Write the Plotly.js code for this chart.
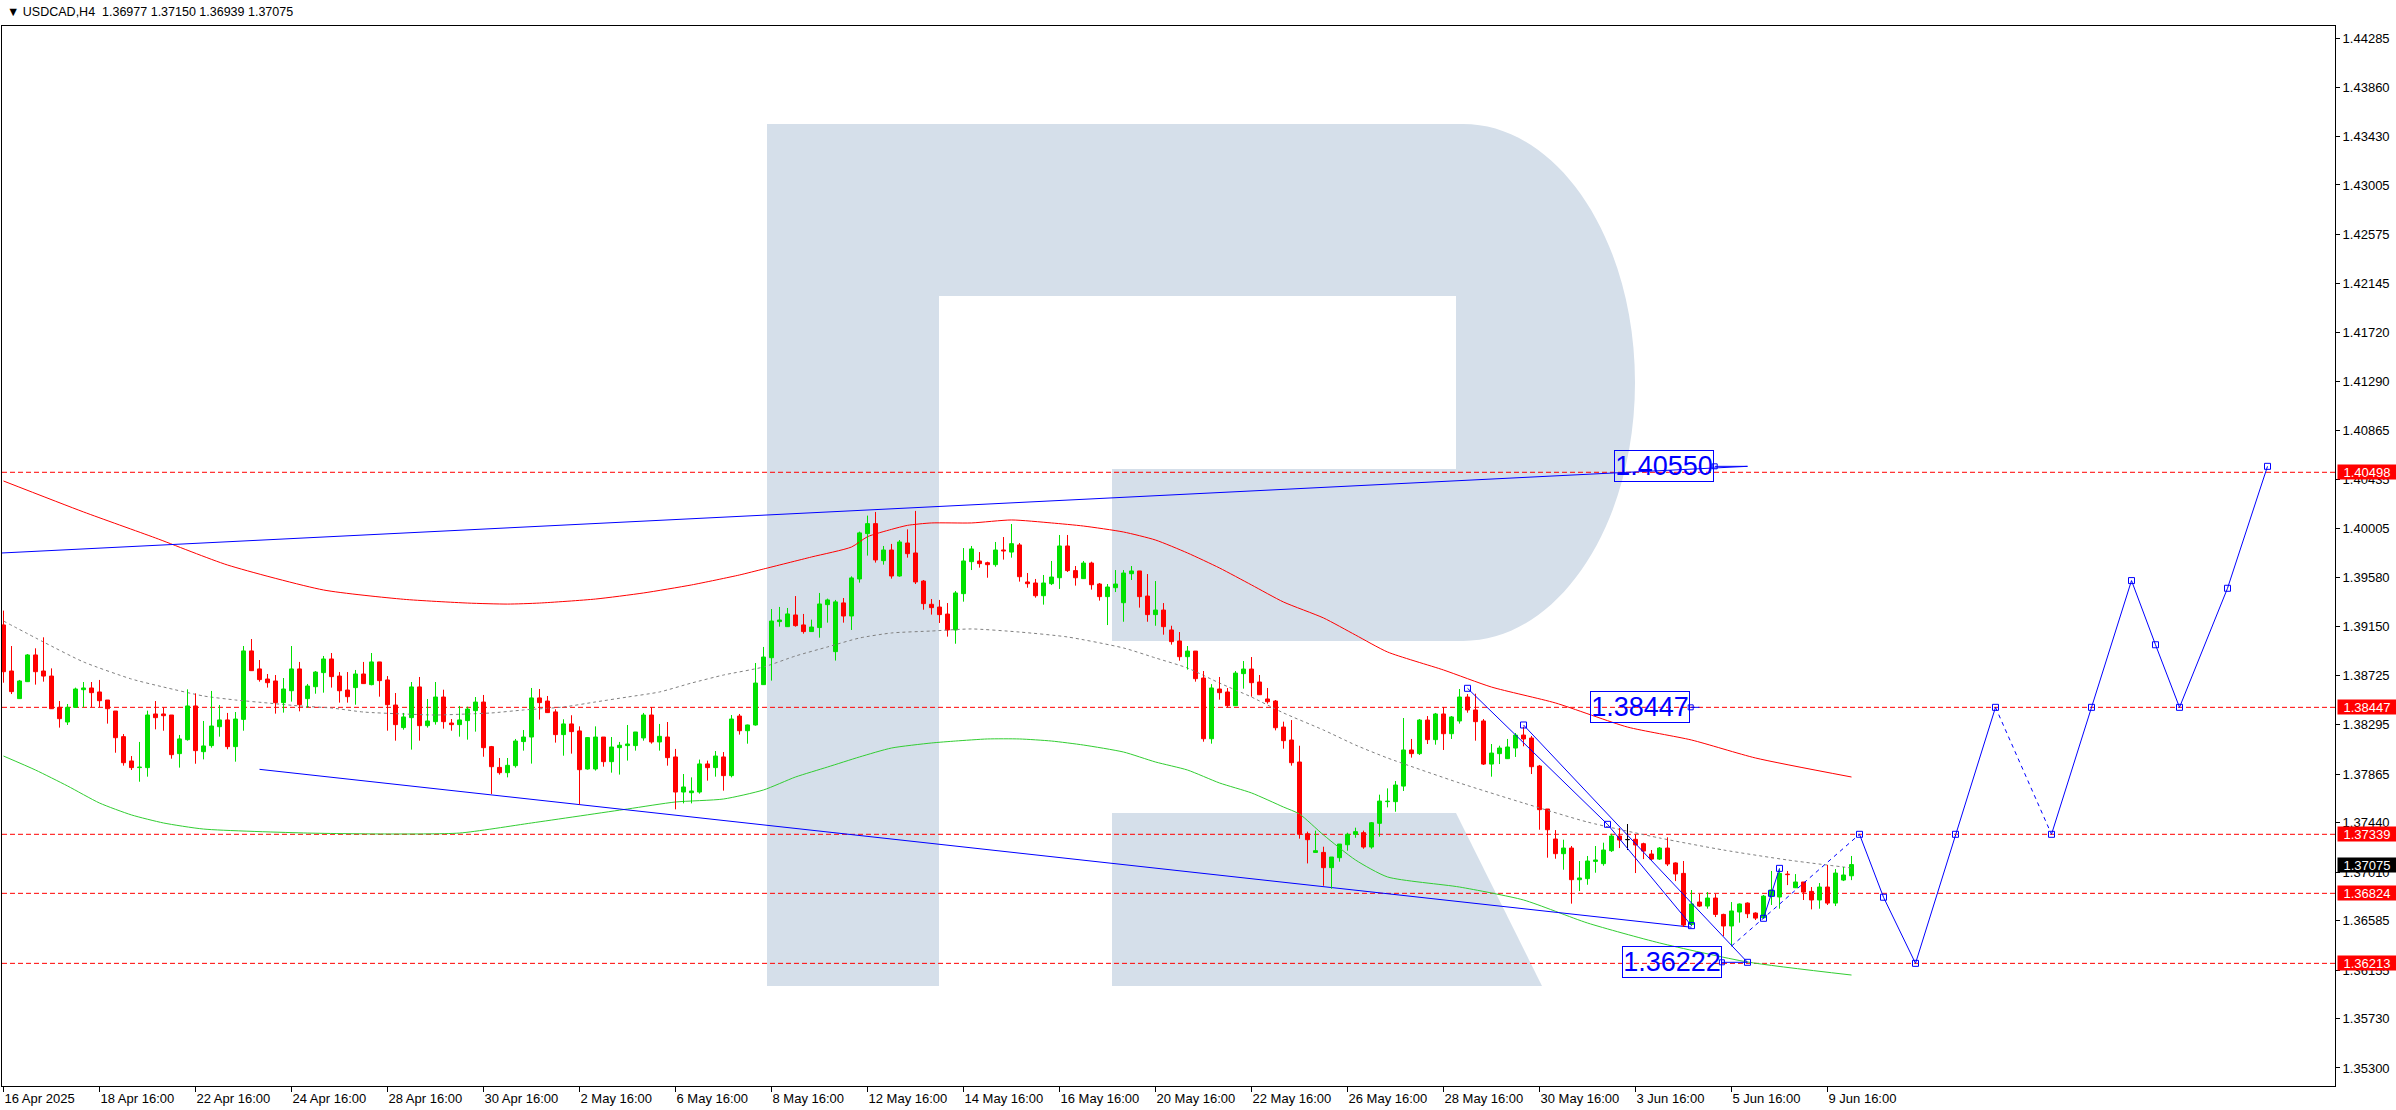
<!DOCTYPE html>
<html><head><meta charset="utf-8">
<script src="https://cdn.plot.ly/plotly-3.0.1.min.js"></script>
<style>html,body{margin:0;padding:0;background:#fff;overflow:hidden}#chart{width:2396px;height:1110px}</style>
</head><body><div id="chart"></div>
<script>
// ---------------- DATA ----------------
const symbolTitle = 'USDCAD,H4';
const open = [
1.39166,1.38764,1.38523,1.38671,1.38904,1.38764,1.38720,1.38447,1.38319,1.38447,
1.38601,1.38616,1.38581,1.38511,1.38415,1.38191,1.37979,1.37921,1.37921,1.38389,
1.38389,1.38380,1.38043,1.38165,1.38459,1.38060,1.38113,1.38278,1.38337,1.38104,
1.38342,1.38939,1.38782,1.38694,1.38677,1.38488,1.38592,1.38782,1.38523,1.38627,
1.38750,1.38869,1.38720,1.38598,1.38619,1.38738,1.38645,1.38843,1.38686,1.38467,
1.38270,1.38357,1.38625,1.38287,1.38322,1.38537,1.38310,1.38296,1.38331,1.38418,
1.38493,1.38104,1.37923,1.37877,1.37938,1.38148,1.38188,1.38529,1.38502,1.38407,
1.38209,1.38302,1.38241,1.37909,1.37909,1.38188,1.37973,1.38095,1.38113,1.38113,
1.38180,1.38380,1.38145,1.38188,1.38014,1.37708,1.37702,1.37708,1.37953,1.37921,
1.38014,1.37851,1.38371,1.38243,1.38293,1.38645,1.38880,1.39195,1.39151,1.39253,
1.39166,1.39108,1.39143,1.39343,1.38933,1.39358,1.39244,1.39567,1.39963,1.40050,
1.39727,1.39820,1.39593,1.39881,1.39794,1.39549,1.39346,1.39322,1.39261,1.39122,
1.39439,1.39718,1.39724,1.39709,1.39692,1.39820,1.39802,1.39864,1.39541,1.39532,
1.39421,1.39526,1.39578,1.39855,1.39640,1.39570,1.39706,1.39523,1.39413,1.39491,
1.39360,1.39613,1.39637,1.39418,1.39256,1.39296,1.39122,1.39026,1.38889,1.38938,
1.38703,1.38173,1.38607,1.38581,1.38461,1.38741,1.38781,1.38668,1.38520,1.38502,
1.38275,1.38162,1.37970,1.37344,1.37181,1.37181,1.37048,1.37135,1.37248,1.37339,
1.37353,1.37228,1.37435,1.37624,1.37624,1.37760,1.38075,1.38043,1.38336,1.38165,
1.38389,1.38217,1.38328,1.38537,1.38424,1.38328,1.37952,1.38043,1.37999,1.38092,
1.38205,1.38179,1.37935,1.37560,1.37298,1.37170,1.37219,1.36943,1.36952,1.37103,
1.37083,1.37196,1.37324,1.37292,1.37295,1.37257,1.37167,1.37123,1.37219,1.37089,
1.36998,1.36553,1.36748,1.36713,1.36783,1.36640,1.36539,1.36661,1.36739,1.36652,
1.36611,1.36800,1.36792,1.36992,1.36873,1.36923,1.36841,1.36766,1.36879,1.36739,
1.36940,1.36977];
const high = [
1.39291,1.38982,1.38686,1.38912,1.38962,1.39058,1.38787,1.38502,1.38476,1.38619,
1.38668,1.38668,1.38686,1.38511,1.38415,1.38214,1.38022,1.38145,1.38418,1.38502,
1.38447,1.38380,1.38206,1.38604,1.38569,1.38328,1.38590,1.38467,1.38398,1.38406,
1.38982,1.39043,1.38860,1.38738,1.38729,1.38703,1.38982,1.38843,1.38651,1.38764,
1.38895,1.38921,1.38755,1.38755,1.38773,1.38843,1.38921,1.38843,1.38720,1.38572,
1.38398,1.38668,1.38712,1.38520,1.38668,1.38601,1.38345,1.38459,1.38453,1.38537,
1.38555,1.38110,1.38005,1.38005,1.38171,1.38249,1.38616,1.38607,1.38546,1.38430,
1.38343,1.38378,1.38281,1.38188,1.38281,1.38188,1.38188,1.38145,1.38293,1.38232,
1.38398,1.38447,1.38302,1.38319,1.38084,1.37865,1.37836,1.37991,1.37982,1.38066,
1.38057,1.38380,1.38389,1.38296,1.38834,1.38974,1.39305,1.39323,1.39314,1.39418,
1.39262,1.39212,1.39445,1.39396,1.39384,1.39401,1.39590,1.39980,1.40120,1.40152,
1.39855,1.39873,1.39907,1.40000,1.40161,1.39558,1.39392,1.39384,1.39357,1.39462,
1.39837,1.39855,1.39802,1.39718,1.39890,1.39933,1.40047,1.39881,1.39619,1.39567,
1.39602,1.39724,1.39951,1.39951,1.39680,1.39724,1.39718,1.39532,1.39523,1.39645,
1.39645,1.39680,1.39637,1.39610,1.39549,1.39357,1.39159,1.39104,1.38982,1.38938,
1.38764,1.38650,1.38712,1.38616,1.38764,1.38851,1.38886,1.38729,1.38616,1.38511,
1.38322,1.38336,1.38112,1.37362,1.37371,1.37231,1.37141,1.37254,1.37353,1.37397,
1.37371,1.37446,1.37685,1.37740,1.37804,1.38354,1.38171,1.38345,1.38371,1.38398,
1.38450,1.38371,1.38607,1.38563,1.38566,1.38345,1.38127,1.38112,1.38171,1.38223,
1.38278,1.38197,1.37944,1.37560,1.37376,1.37292,1.37237,1.37106,1.37150,1.37237,
1.37266,1.37344,1.37394,1.37429,1.37342,1.37266,1.37202,1.37228,1.37313,1.37094,
1.37106,1.36853,1.36818,1.36835,1.36818,1.36646,1.36748,1.36736,1.36745,1.36658,
1.36809,1.37019,1.37039,1.37019,1.36992,1.36923,1.36879,1.36914,1.37071,1.37036,
1.37054,1.37150];
const low = [
1.38662,1.38563,1.38523,1.38671,1.38645,1.38671,1.38435,1.38270,1.38293,1.38447,
1.38447,1.38447,1.38447,1.38305,1.38051,1.37938,1.37900,1.37798,1.37842,1.38255,
1.38243,1.37999,1.37921,1.38156,1.37955,1.37993,1.38095,1.38191,1.38081,1.37973,
1.38243,1.38767,1.38671,1.38619,1.38392,1.38401,1.38497,1.38412,1.38444,1.38566,
1.38575,1.38619,1.38488,1.38488,1.38470,1.38654,1.38639,1.38540,1.38243,1.38156,
1.38252,1.38078,1.38156,1.38270,1.38296,1.38261,1.38243,1.38191,1.38165,1.38235,
1.38016,1.37691,1.37860,1.37836,1.37921,1.38069,1.37956,1.38340,1.38401,1.38139,
1.38025,1.38043,1.37598,1.37903,1.37895,1.37929,1.37877,1.37860,1.37982,1.38069,
1.38156,1.38130,1.38069,1.37938,1.37557,1.37609,1.37609,1.37694,1.37807,1.37842,
1.37720,1.37836,1.38209,1.38130,1.38287,1.38645,1.38680,1.39151,1.39151,1.39151,
1.39090,1.39108,1.39055,1.39186,1.38855,1.39186,1.39122,1.39535,1.39771,1.39710,
1.39692,1.39570,1.39587,1.39753,1.39523,1.39299,1.39256,1.39183,1.39064,1.39002,
1.39369,1.39645,1.39666,1.39578,1.39674,1.39736,1.39753,1.39544,1.39491,1.39404,
1.39343,1.39514,1.39480,1.39628,1.39509,1.39567,1.39474,1.39378,1.39165,1.39453,
1.39194,1.39558,1.39317,1.39194,1.39159,1.39081,1.38994,1.38854,1.38776,1.38671,
1.38147,1.38130,1.38514,1.38444,1.38461,1.38610,1.38540,1.38557,1.38479,1.38246,
1.38086,1.37938,1.37301,1.37085,1.37181,1.36890,1.36864,1.37100,1.37196,1.37309,
1.37213,1.37213,1.37318,1.37574,1.37536,1.37717,1.38008,1.38031,1.38127,1.38121,
1.38075,1.38171,1.38305,1.38400,1.38156,1.37944,1.37842,1.37952,1.37996,1.38014,
1.38107,1.37865,1.37379,1.37135,1.37126,1.37030,1.36734,1.36844,1.36899,1.37004,
1.37065,1.37185,1.37219,1.37202,1.37001,1.37123,1.37109,1.37115,1.37062,1.36931,
1.36530,1.36539,1.36705,1.36690,1.36617,1.36451,1.36364,1.36568,1.36608,1.36591,
1.36608,1.36722,1.36690,1.36896,1.36870,1.36766,1.36684,1.36690,1.36722,1.36713,
1.36931,1.36939];
const close = [
1.38758,1.38584,1.38677,1.38904,1.38758,1.38720,1.38435,1.38348,1.38447,1.38607,
1.38616,1.38575,1.38505,1.38435,1.38182,1.37964,1.37921,1.37926,1.38380,1.38357,
1.38374,1.38034,1.38171,1.38459,1.38069,1.38110,1.38284,1.38337,1.38104,1.38345,
1.38939,1.38767,1.38689,1.38662,1.38488,1.38607,1.38782,1.38470,1.38633,1.38755,
1.38869,1.38715,1.38592,1.38540,1.38738,1.38654,1.38843,1.38680,1.38470,1.38296,
1.38363,1.38625,1.38287,1.38328,1.38537,1.38322,1.38296,1.38337,1.38432,1.38493,
1.38095,1.37929,1.37877,1.37941,1.38153,1.38188,1.38529,1.38488,1.38401,1.38209,
1.38302,1.38235,1.37903,1.38183,1.38188,1.37973,1.38101,1.38116,1.38127,1.38232,
1.38380,1.38145,1.38194,1.38008,1.37708,1.37752,1.37717,1.37953,1.37921,1.38022,
1.37851,1.38345,1.38243,1.38293,1.38659,1.38886,1.39200,1.39209,1.39262,1.39160,
1.39108,1.39148,1.39349,1.39384,1.39367,1.39244,1.39576,1.39969,1.40050,1.39733,
1.39820,1.39593,1.39890,1.39788,1.39541,1.39352,1.39317,1.39256,1.39122,1.39445,
1.39724,1.39829,1.39701,1.39692,1.39820,1.39811,1.39875,1.39587,1.39526,1.39421,
1.39532,1.39584,1.39855,1.39640,1.39578,1.39706,1.39517,1.39413,1.39497,1.39523,
1.39619,1.39637,1.39413,1.39256,1.39296,1.39151,1.39020,1.38889,1.38938,1.38697,
1.38173,1.38616,1.38575,1.38461,1.38746,1.38781,1.38662,1.38557,1.38496,1.38269,
1.38156,1.37964,1.37339,1.37292,1.37196,1.37048,1.37141,1.37254,1.37339,1.37362,
1.37228,1.37440,1.37629,1.37629,1.37769,1.38075,1.38043,1.38336,1.38165,1.38389,
1.38217,1.38363,1.38537,1.38424,1.38322,1.37952,1.38048,1.38092,1.38101,1.38205,
1.38171,1.37929,1.37554,1.37379,1.37170,1.37219,1.36943,1.36958,1.37106,1.37115,
1.37202,1.37324,1.37289,1.37292,1.37246,1.37193,1.37123,1.37219,1.37080,1.36993,
1.36547,1.36731,1.36713,1.36783,1.36640,1.36539,1.36670,1.36731,1.36646,1.36608,
1.36800,1.36853,1.36998,1.36987,1.36923,1.36835,1.36766,1.36879,1.36739,1.37001,
1.36984,1.37075];

// x-axis labels every 12 bars
const timeLabels = ['16 Apr 2025','18 Apr 16:00','22 Apr 16:00','24 Apr 16:00','28 Apr 16:00','30 Apr 16:00',
  '2 May 16:00','6 May 16:00','8 May 16:00','12 May 16:00','14 May 16:00','16 May 16:00','20 May 16:00',
  '22 May 16:00','26 May 16:00','28 May 16:00','30 May 16:00','3 Jun 16:00','5 Jun 16:00','9 Jun 16:00'];
const timeLabelBars = [0,12,24,36,48,60,72,84,96,108,120,132,144,156,168,180,192,204,216,228];
const priceTicks = [1.44285,1.43860,1.43430,1.43005,1.42575,1.42145,1.41720,1.41290,1.40865,1.40435,1.40005,
  1.39580,1.39150,1.38725,1.38295,1.37865,1.37440,1.37010,1.36585,1.36155,1.35730,1.35300];

// moving averages (sampled)
const redMaBars = [0,10,19,28,40,50,58,63,67,74,80,86,92,95,101,106,108,111,113,116,121,126,131,135,140,144,148,152,156,160,165,169,173,180,186,194,203,211,219,231];
const redMa = [1.40422,1.40152,1.39925,1.39689,1.39471,1.39390,1.39357,1.39348,1.39357,1.39392,1.39445,1.39515,1.39602,1.39654,1.39759,1.39846,1.39936,1.40000,1.40035,1.40056,1.40056,1.40082,1.40056,1.40029,1.39977,1.39907,1.39794,1.39663,1.39515,1.39366,1.39227,1.39078,1.38930,1.38773,1.38624,1.38485,1.38275,1.38162,1.38005,1.37839];
const greenMaBars = [0,4,8,12,16,20,25,38,48,57,66,78,84,90,95,99,103,107,111,116,119,123,127,131,135,140,144,148,152,156,160,162,165,169,173,182,190,198,207,218,231];
const greenMa = [1.38022,1.37900,1.37761,1.37612,1.37508,1.37438,1.37385,1.37350,1.37342,1.37350,1.37438,1.37560,1.37621,1.37647,1.37726,1.37839,1.37926,1.38014,1.38092,1.38136,1.38153,1.38171,1.38171,1.38153,1.38118,1.38057,1.37970,1.37900,1.37787,1.37700,1.37577,1.37516,1.37333,1.37115,1.36967,1.36879,1.36766,1.36565,1.36391,1.36225,1.36111];
const greyMaBars = [0,5,10,16,20,25,29,33,37,41,45,50,54,58,61,65,70,74,78,82,86,90,95,99,103,107,111,116,121,127,133,140,144,148,152,156,160,165,169,173,182,190,198,207,215,223,231];
const greyMa = [1.39200,1.39017,1.38843,1.38694,1.38624,1.38546,1.38511,1.38485,1.38459,1.38441,1.38406,1.38389,1.38380,1.38389,1.38398,1.38424,1.38450,1.38494,1.38537,1.38581,1.38659,1.38729,1.38799,1.38895,1.38974,1.39052,1.39096,1.39113,1.39131,1.39104,1.39061,1.38965,1.38878,1.38790,1.38659,1.38537,1.38398,1.38249,1.38118,1.38005,1.37787,1.37612,1.37446,1.37307,1.37202,1.37115,1.37045];

// support / resistance levels
const levels = [1.40498,1.38447,1.37339,1.36824,1.36213];

// drawn trend lines (bar index, price)
const upperTrendBars = [-0.19,218];      const upperTrend = [1.39794,1.40550];
const lowerTrendBars = [32,211];         const lowerTrend = [1.37906,1.36528];
const channelABars = [183,200.5,211];    const channelA = [1.38613,1.37426,1.36542];
const channelBBars = [190,218];          const channelB = [1.38293,1.36222];
const waveBars = [220,221,222];          const wave = [1.36606,1.36824,1.37042];
const waveDashBars = [216,232];          const waveDash = [1.36364,1.37339];
// forecast path
const fc1Bars = [232,235,239,244,249];   const fc1 = [1.37339,1.36790,1.36213,1.37339,1.38447];
const fcDashBars = [249,256];            const fcDash = [1.38447,1.37339];
const fc2Bars = [256,261,266,269,272,278,283]; const fc2 = [1.37339,1.38447,1.39553,1.38993,1.38447,1.39486,1.40550];
// target labels
const targetTexts = ['1.40550','1.38447','1.36222'];
const targetBars = [207.5,204.5,208.5];
const targetPrices = [1.40550,1.38447,1.36222];
const targetLinkBars = [[213.9,218],[210.9,212],[214.8,218]];

// ---------------- LAYOUT / STYLE ----------------
const W=2396,H=1110, ML=2, MR=61, MT=26, MB=24;
const PW=W-ML-MR, PH=H-MT-MB;
const PX_BAR=8, PX_UNIT=11460;
const Y_TOP=1.44285+(38.3-MT)/PX_UNIT, Y_BOT=Y_TOP-PH/PX_UNIT;
const X_LEFT=-(3.5-ML)/PX_BAR, X_RIGHT=X_LEFT+PW/PX_BAR;
const FONT='Liberation Sans, Arial, sans-serif';
const UP='#00e000', DOWN='#ff0000', DOJI='#000000', BLUE='#0000ff';

const n=open.length, idx=[...Array(n).keys()];
const dir=idx.map(i=>close[i]>open[i]?1:(close[i]<open[i]?-1:0));
const colOf=d=>d>0?UP:(d<0?DOWN:DOJI);

function wickTrace(d){
  const x=[],y=[];
  idx.forEach(i=>{ if(dir[i]===d){ x.push(i,i,null); y.push(low[i],high[i],null);} });
  return {type:'scatter',mode:'lines',x,y,line:{color:colOf(d),width:1},hoverinfo:'skip',showlegend:false};
}
const bodyCols=idx.map(i=>colOf(dir[i]));
const bodies={type:'bar',x:idx,base:idx.map(i=>Math.min(open[i],close[i])),
  y:idx.map(i=>Math.max(Math.abs(close[i]-open[i]),0.00002)),width:0.5,
  marker:{color:bodyCols,line:{color:bodyCols,width:1}},hoverinfo:'skip',showlegend:false};

function line(x,y,color,dash,width,markers){
  return {type:'scatter',mode:markers?'lines+markers':'lines',x,y,
    line:{color,width:width||1,dash:dash||'solid'},
    marker:{symbol:'square-open',size:6,color,line:{width:1,color}},hoverinfo:'skip',showlegend:false};
}
function ma(x,y,color,dash){
  return {type:'scatter',mode:'lines',x,y,line:{color,width:1,dash:dash||'solid',shape:'spline',smoothing:0.6},hoverinfo:'skip',showlegend:false};
}

const linkX=[],linkY=[];
targetLinkBars.forEach((b,k)=>{ linkX.push(b[0],b[1],null); linkY.push(targetPrices[k],targetPrices[k],null); });

const traces=[
  ma(greenMaBars,greenMa,'#32cd32'),
  ma(redMaBars,redMa,'#ff0000'),
  ma(greyMaBars,greyMa,'#808080','3px,3px'),
  line(upperTrendBars,upperTrend,BLUE),
  line(lowerTrendBars,lowerTrend,BLUE),
  wickTrace(1),wickTrace(-1),wickTrace(0),bodies,
  line(channelABars,channelA,BLUE,null,1,true),
  line(channelBBars,channelB,BLUE,null,1,true),
  line(waveBars,wave,BLUE,null,1,true),
  line(waveDashBars,waveDash,BLUE,'4px,4px'),
  line(fc1Bars,fc1,BLUE,null,1,true),
  line(fcDashBars,fcDash,BLUE,'4px,4px'),
  line(fc2Bars,fc2,BLUE,null,1,true),
  {type:'scatter',mode:'lines',x:linkX,y:linkY,line:{color:BLUE,width:1},hoverinfo:'skip',showlegend:false},
  {type:'scatter',mode:'markers',x:targetLinkBars.map(b=>b[0]),y:targetPrices,marker:{symbol:'square-open',size:5,color:BLUE,line:{width:1,color:BLUE}},hoverinfo:'skip',showlegend:false}
];

// watermark "R" (logo, in pixel space -> paper)
const px=(x)=>((x-ML)/PW).toFixed(5), py=(y)=>(1-(y-MT)/PH).toFixed(5);
const P=(x,y)=>px(x)+','+py(y);
const k=0.5523, cx=1463, cy=382.5, rx=172, ry=258.5;
const bowl='M'+P(767,124)+' L'+P(cx,124)+
  ' C'+P(cx+rx*k,124)+' '+P(cx+rx,cy-ry*k)+' '+P(cx+rx,cy)+
  ' C'+P(cx+rx,cy+ry*k)+' '+P(cx+rx*k,641)+' '+P(cx,641)+
  ' L'+P(1112,641)+' L'+P(1112,469)+' L'+P(1456,469)+' L'+P(1456,296)+' L'+P(939,296)+
  ' L'+P(939,986)+' L'+P(767,986)+' Z';
const leg='M'+P(1112,813)+' L'+P(1456,813)+' L'+P(1542,986)+' L'+P(1112,986)+' Z';

const shapes=[
  {type:'path',xref:'paper',yref:'paper',path:bowl,fillcolor:'#d5dfea',line:{width:0},layer:'below'},
  {type:'path',xref:'paper',yref:'paper',path:leg,fillcolor:'#d5dfea',line:{width:0},layer:'below'}
];
levels.forEach(v=>shapes.push({type:'line',xref:'paper',x0:0,x1:1,yref:'y',y0:v,y1:v,layer:'below',
  line:{color:'#ff0000',width:1,dash:'5px,3px'}}));

const annotations=[
  {xref:'paper',yref:'paper',x:0,y:1,xanchor:'left',yanchor:'middle',xshift:3,yshift:14,showarrow:false,
   text:'▼ '+symbolTitle+'\u00a0\u00a0'+[open[n-1],high[n-1],low[n-1],close[n-1]].map(v=>v.toFixed(5)).join(' '),
   font:{family:FONT,size:12.5,color:'#000'}}
];
levels.forEach(v=>annotations.push({xref:'paper',x:1,xanchor:'left',xshift:2,yref:'y',y:v,yanchor:'middle',
  text:v.toFixed(5),showarrow:false,bgcolor:'#ff0000',font:{family:FONT,size:13,color:'#fff'},width:58,height:14,borderpad:0}));
annotations.push({xref:'paper',x:1,xanchor:'left',xshift:2,yref:'y',y:close[n-1],yanchor:'middle',
  text:close[n-1].toFixed(5),showarrow:false,bgcolor:'#000000',font:{family:FONT,size:13,color:'#fff'},width:58,height:14,borderpad:0});
targetTexts.forEach((t,i)=>annotations.push({xref:'x',yref:'y',x:targetBars[i],y:targetPrices[i],text:t,showarrow:false,
  font:{family:FONT,size:27,color:BLUE},bordercolor:BLUE,borderwidth:1,borderpad:0,width:98,height:30}));

const layout={
  width:W,height:H,margin:{l:ML,r:MR,t:MT,b:MB,pad:0},
  paper_bgcolor:'#ffffff',plot_bgcolor:'rgba(0,0,0,0)',
  showlegend:false,hovermode:false,barmode:'overlay',
  xaxis:{range:[X_LEFT,X_RIGHT],showgrid:false,zeroline:false,showline:true,linecolor:'#000',linewidth:1,mirror:true,
    ticks:'outside',ticklen:5,tickcolor:'#000',tickvals:timeLabelBars,ticktext:timeLabels,
    ticklabelposition:'outside right',tickfont:{family:FONT,size:13,color:'#000'}},
  yaxis:{range:[Y_BOT,Y_TOP],side:'right',showgrid:false,zeroline:false,showline:true,linecolor:'#000',linewidth:1,mirror:true,
    ticks:'outside',ticklen:4,tickcolor:'#000',tickvals:priceTicks,ticktext:priceTicks.map(v=>v.toFixed(5)),
    tickfont:{family:FONT,size:13,color:'#000'}},
  shapes,annotations
};
Plotly.newPlot('chart',traces,layout,{staticPlot:true,displayModeBar:false});
</script></body></html>
